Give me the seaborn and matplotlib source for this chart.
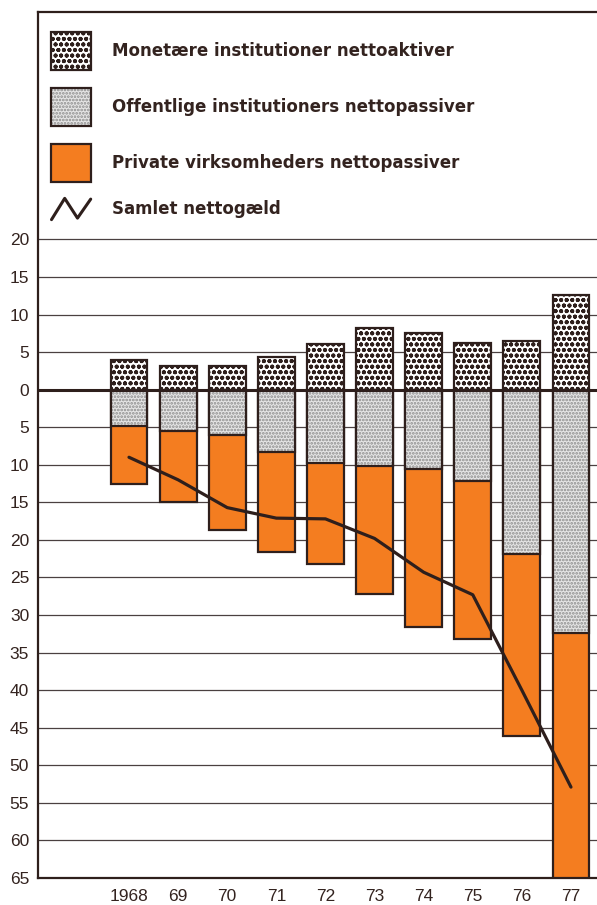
import numpy as np
import pandas as pd
import matplotlib
matplotlib.use("Agg")
import matplotlib.pyplot as plt
import seaborn as sns
from matplotlib.patches import Patch
from matplotlib.lines import Line2D
from matplotlib.legend_handler import HandlerBase, HandlerTuple

# DATA (mia. kr.)
years = ["1968", "69", "70", "71", "72", "73", "74", "75", "76", "77"]
monetaere = [4.0, 3.1, 3.2, 4.4, 6.1, 8.15, 7.5, 6.2, 6.5, 12.6]
offentlige = [4.9, 5.5, 6.1, 8.3, 9.8, 10.1, 10.6, 12.1, 21.9, 32.4]
private = [7.7, 9.4, 12.6, 13.3, 13.4, 17.1, 21.0, 21.1, 24.2, 33.6]
samlet = [9.0, 12.0, 15.7, 17.1, 17.2, 19.8, 24.3, 27.3, 40.0, 52.9]

labels = [
    "Monetære institutioner nettoaktiver",
    "Offentlige institutioners nettopassiver",
    "Private virksomheders nettopassiver",
    "Samlet nettogæld",
]

# COLOURS
dark = "#2e1f1c"
text_col = "#33231f"
orange = "#f47d20"
grey_fill = "#e6e6e6"
grey_dot = "#8c8c8c"

sns.set_style("white")
plt.rcParams["font.family"] = ["Liberation Sans", "DejaVu Sans"]
plt.rcParams["hatch.linewidth"] = 1.3

df = pd.DataFrame({
    "aar": years,
    "monetaer": monetaere,
    "offentlig": -np.array(offentlige),
    "passiv_total": -(np.array(offentlige) + np.array(private)),
})
pos = np.arange(len(years))

fig = plt.figure(figsize=(5.97, 9.05), dpi=100)
ax = fig.add_axes([37.5 / 597, 27 / 905, 1 - 37.5 / 597, (878 - 12.5) / 905])

bar_kw = dict(data=df, x="aar", width=0.75, saturation=1, errorbar=None, ax=ax)

# private (full negative stack, offentlig drawn on top of it)
sns.barplot(y="passiv_total", color=orange, edgecolor=dark, linewidth=1.6, **bar_kw)
# offentlig: stipple layer, then outline
sns.barplot(y="offentlig", color=grey_fill, edgecolor=grey_dot, linewidth=0,
            hatch=".....", **bar_kw)
sns.barplot(y="offentlig", color=dark, fill=False, linewidth=1.6, **bar_kw)
# monetaer
sns.barplot(y="monetaer", color="white", edgecolor=dark, linewidth=1.6,
            hatch="ooo", **bar_kw)

# samlet nettogaeld
sns.lineplot(x=pos, y=-np.array(samlet), color=dark, linewidth=2.3, ax=ax, zorder=5)

ax.axhline(0, color=dark, linewidth=2.2, zorder=4)

ax.set_xlim(-1.863, 9.53)
ax.set_ylim(-65, 50.2)
yt = np.arange(-65, 21, 5)
ax.set_yticks(yt)
ax.set_yticklabels([str(abs(v)) for v in yt])
ax.set_xticks(pos)
ax.set_xticklabels(years)
ax.set_xlabel("")
ax.set_ylabel("")
ax.set_axisbelow(True)
ax.yaxis.grid(True, color="#4a4040", linewidth=0.9)
ax.tick_params(length=0, labelsize=12.5, labelcolor=text_col)
ax.tick_params(axis="y", pad=6)
ax.tick_params(axis="x", pad=8)
for side in ["left", "top", "bottom"]:
    ax.spines[side].set_color(dark)
    ax.spines[side].set_linewidth(1.6)
ax.spines["right"].set_visible(False)


# LEGEND
class ZigzagHandler(HandlerBase):
    def create_artists(self, legend, orig_handle, xdescent, ydescent,
                       width, height, fontsize, trans):
        xs = np.array([0.02, 0.35, 0.67, 1.0]) * width - xdescent
        ys = np.array([0.22, 0.78, 0.26, 0.76]) * height - ydescent
        ln = Line2D(xs, ys, color=dark, linewidth=2.2, transform=trans)
        return [ln]


h_mon = Patch(facecolor="white", edgecolor=dark, linewidth=1.6, hatch="ooo")
h_off = (Patch(facecolor=grey_fill, edgecolor=grey_dot, linewidth=0, hatch="....."),
         Patch(fill=False, edgecolor=dark, linewidth=1.6))
h_pri = Patch(facecolor=orange, edgecolor=dark, linewidth=1.6)

leg_fs = 12
leg_kw = dict(loc="upper left", frameon=False, borderpad=0, borderaxespad=0,
              handlelength=2.4, handleheight=3.13, handletextpad=1.26,
              labelspacing=1.08, bbox_transform=fig.transFigure,
              prop={"family": "DejaVu Sans", "size": leg_fs, "weight": "bold"},
              labelcolor=text_col)

leg1 = ax.legend([h_mon, h_off, h_pri], labels[:3],
                 bbox_to_anchor=(50.7 / 597, 1 - 31.7 / 905),
                 handler_map={tuple: HandlerTuple(ndivide=1)}, **leg_kw)
ax.add_artist(leg1)
leg2 = ax.legend([Line2D([], [])], labels[3:],
                 bbox_to_anchor=(50.7 / 597, 1 - 190 / 905),
                 handler_map={Line2D: ZigzagHandler()}, **leg_kw)

fig.savefig("out.png", dpi=100, facecolor="white")
